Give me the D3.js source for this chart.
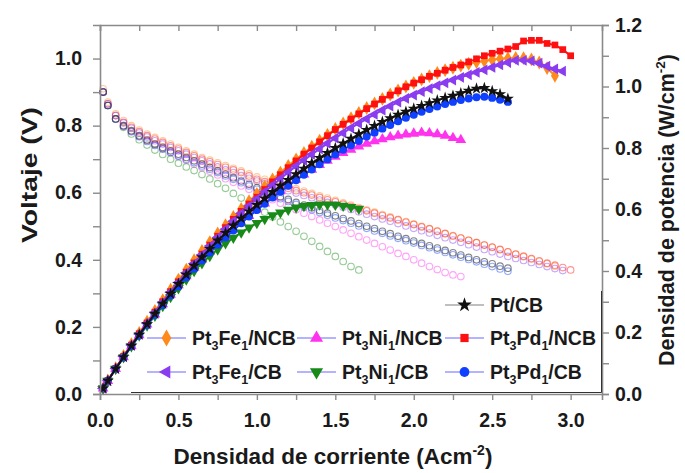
<!DOCTYPE html>
<html>
<head>
<meta charset="utf-8">
<script src="https://cdn.jsdelivr.net/npm/d3@7"></script>
<style>
  body { margin: 0; background: #fff; }
  svg text { font-family: "Liberation Sans", Arial, sans-serif; font-weight: bold; fill: #1a1a1a; }
</style>
</head>
<body>
<div id="chart"></div>
<script>
// current density (A/cm2), shared by all series
const current = [0.02, 0.05, 0.10, 0.15, 0.20, 0.25, 0.30, 0.35, 0.40, 0.45, 0.50, 0.55, 0.60, 0.65, 0.70, 0.75, 0.80, 0.85, 0.90, 0.95,
  1.00, 1.05, 1.10, 1.15, 1.20, 1.25, 1.30, 1.35, 1.40, 1.45, 1.50, 1.55, 1.60, 1.65, 1.70, 1.75, 1.80, 1.85, 1.90, 1.95,
  2.00, 2.05, 2.10, 2.15, 2.20, 2.25, 2.30, 2.35, 2.40, 2.45, 2.50, 2.55, 2.60, 2.65, 2.70, 2.75, 2.80, 2.85, 2.90, 2.95, 3.00];

// voltage (V)
const voltFeNCB = [.91, .87, .835, .815, .80, .787, .775, .765, .755, .745, .735, .725, .715, .705, .697, .689, .681, .673, .665, .656,
  .647, .64, .633, .626, .619, .612, .605, .598, .591, .584, .577, .57, .563, .556, .549, .542, .535, .528, .521, .514,
  .507, .50, .493, .486, .479, .472, .465, .458, .451, .444, .437, .43, .423, .416, .409, .402, .395, .388, .381];
const voltNiNCB = [.90, .86, .82, .80, .783, .768, .755, .743, .731, .72, .708, .697, .686, .675, .664, .653, .642, .631, .62, .61,
  .60, .59, .579, .569, .559, .549, .539, .529, .519, .509, .499, .489, .479, .469, .459, .449, .439, .429, .419, .41,
  .40, .39, .38, .371, .362, .355, .35];
const voltPdNCB = [.90, .865, .83, .81, .795, .782, .77, .76, .75, .74, .73, .72, .71, .70, .692, .684, .676, .668, .66, .65,
  .64, .633, .627, .62, .613, .606, .60, .593, .586, .579, .573, .566, .559, .552, .546, .539, .532, .525, .519, .512,
  .505, .498, .492, .485, .478, .471, .465, .458, .451, .444, .438, .431, .424, .417, .411, .404, .397, .39, .384, .377, .37];
const voltFeCB = [.90, .865, .83, .808, .792, .778, .766, .755, .745, .735, .725, .715, .705, .695, .686, .677, .668, .66, .651, .643,
  .635, .627, .62, .613, .606, .599, .592, .585, .578, .571, .564, .557, .55, .543, .536, .529, .522, .515, .508, .501,
  .494, .487, .48, .473, .466, .459, .452, .445, .438, .431, .424, .417, .41, .404, .398, .392, .386, .38, .374, .368];
const voltNiCB = [.90, .86, .82, .795, .775, .758, .742, .727, .714, .70, .688, .677, .666, .654, .641, .627, .613, .598, .584, .57,
  .556, .542, .528, .513, .499, .485, .47, .455, .44, .425, .41, .395, .38, .37];
const voltPdCB = [.90, .86, .82, .798, .782, .767, .753, .741, .73, .72, .71, .70, .69, .68, .67, .66, .65, .64, .63, .62,
  .61, .60, .591, .582, .574, .565, .557, .549, .541, .533, .525, .517, .509, .501, .494, .486, .479, .471, .464, .457,
  .45, .443, .436, .429, .422, .415, .408, .401, .394, .387, .38, .373, .366];
const voltPtCB = [.90, .86, .82, .80, .785, .77, .757, .745, .735, .725, .715, .705, .695, .685, .675, .665, .655, .645, .635, .625,
  .615, .605, .597, .588, .58, .571, .563, .555, .547, .539, .531, .523, .516, .508, .50, .493, .485, .478, .47, .463,
  .456, .449, .442, .435, .428, .421, .414, .407, .40, .394, .388, .381, .375];

// power density (W/cm2)
const powFeNCB = [.018, .044, .084, .124, .162, .199, .235, .27, .305, .339, .372, .404, .435, .465, .494, .522, .549, .576, .602, .627,
  .651, .675, .698, .72, .742, .763, .784, .804, .824, .843, .862, .88, .897, .914, .93, .945, .96, .974, .987, 1.0,
  1.012, 1.023, 1.034, 1.044, 1.053, 1.061, 1.068, 1.074, 1.079, 1.083, 1.087, 1.09, 1.092, 1.093, 1.092, 1.088, 1.078, 1.06, 1.035];
const powNiNCB = [.018, .043, .082, .12, .156, .191, .226, .259, .292, .323, .354, .383, .411, .438, .464, .489, .513, .536, .558, .579,
  .60, .62, .64, .66, .679, .697, .714, .73, .745, .759, .772, .784, .795, .805, .814, .822, .829, .835, .84, .844,
  .847, .85, .848, .845, .84, .833, .826];
const powPdNCB = [.018, .043, .083, .122, .159, .196, .231, .266, .30, .333, .365, .396, .426, .455, .484, .513, .541, .568, .594, .618,
  .64, .665, .69, .713, .736, .758, .78, .80, .82, .84, .86, .877, .894, .911, .928, .943, .958, .972, .986, .999,
  1.011, 1.022, 1.033, 1.043, 1.053, 1.062, 1.07, 1.08, 1.09, 1.10, 1.108, 1.115, 1.122, 1.13, 1.148, 1.15, 1.15, 1.14, 1.135, 1.12, 1.10];
const powFeCB = [.018, .043, .083, .122, .159, .195, .23, .265, .298, .331, .363, .394, .424, .453, .481, .509, .536, .562, .587, .611,
  .634, .657, .679, .70, .721, .741, .76, .779, .797, .815, .832, .849, .865, .88, .895, .909, .923, .936, .949, .961,
  .972, .983, .993, 1.003, 1.012, 1.021, 1.03, 1.038, 1.046, 1.054, 1.062, 1.07, 1.078, 1.085, 1.085, 1.083, 1.076, 1.066, 1.057, 1.05];
const powNiCB = [.018, .043, .082, .119, .155, .19, .223, .254, .286, .315, .344, .372, .40, .425, .449, .47, .49, .508, .525, .541,
  .556, .569, .581, .59, .599, .606, .611, .614, .616, .616, .615, .612, .608, .602];
const powPdCB = [.018, .043, .082, .119, .155, .19, .224, .257, .289, .32, .35, .379, .407, .434, .46, .485, .509, .532, .555, .577,
  .598, .619, .639, .658, .677, .695, .713, .73, .747, .763, .779, .794, .809, .823, .837, .85, .863, .875, .887, .898,
  .908, .918, .927, .935, .943, .95, .956, .961, .965, .967, .963, .957, .95];
const powPtCB = [.018, .043, .082, .12, .157, .193, .227, .261, .294, .326, .358, .388, .417, .445, .472, .499, .524, .548, .571, .594,
  .615, .636, .657, .677, .696, .715, .733, .751, .768, .784, .80, .815, .83, .845, .859, .872, .885, .897, .908, .918,
  .928, .937, .946, .955, .963, .97, .978, .986, .993, .995, .985, .975, .96];

const xTicks = [0, 0.25, 0.5, 0.75, 1.0, 1.25, 1.5, 1.75, 2.0, 2.25, 2.5, 2.75, 3.0];
const voltTicks = [0, 0.1, 0.2, 0.3, 0.4, 0.5, 0.6, 0.7, 0.8, 0.9, 1.0];
const powTicks = [0, 0.1, 0.2, 0.3, 0.4, 0.5, 0.6, 0.7, 0.8, 0.9, 1.0, 1.1, 1.2];

// series styling; name parts alternate normal / subscript
const series = [
  { name: ["Pt", "3", "Fe", "1", "/NCB"], volt: voltFeNCB, pow: powFeNCB, color: "#ff8a1c", symbol: d3.symbolDiamond, rot: 0, size: 55 },
  { name: ["Pt", "3", "Pd", "1", "/NCB"], volt: voltPdNCB, pow: powPdNCB, color: "#ff1010", symbol: d3.symbolSquare, rot: 0, size: 45 },
  { name: ["Pt", "3", "Ni", "1", "/NCB"], volt: voltNiNCB, pow: powNiNCB, color: "#ff33ee", symbol: d3.symbolTriangle, rot: 0, size: 50 },
  { name: ["Pt", "3", "Ni", "1", "/CB"], volt: voltNiCB, pow: powNiCB, color: "#178a17", symbol: d3.symbolTriangle, rot: 180, size: 50 },
  { name: ["Pt", "3", "Pd", "1", "/CB"], volt: voltPdCB, pow: powPdCB, color: "#1040ff", symbol: d3.symbolCircle, rot: 0, size: 50 },
  { name: ["Pt", "3", "Fe", "1", "/CB"], volt: voltFeCB, pow: powFeCB, color: "#8a3cf0", symbol: d3.symbolTriangle, rot: -90, size: 50 },
  { name: ["Pt/CB"], volt: voltPtCB, pow: powPtCB, color: "#111111", symbol: d3.symbolStar, rot: 0, size: 45 }
];

const W = 685, H = 473;
const svg = d3.select("#chart").append("svg").attr("width", W).attr("height", H);

const x = d3.scaleLinear().domain([0, 3.2]).range([100, 602]);
const yV = d3.scaleLinear().domain([0, 1.1]).range([394, 25]);
const yP = d3.scaleLinear().domain([0, 1.2]).range([394, 25]);

const axisColor = "#8a8a8a";
const fmt = d3.format(".1f");
const even = (v) => Math.abs(Math.round(v * 10) % 2) === 0;

function styleAxis(g) {
  g.selectAll("path.domain").attr("stroke", axisColor).attr("stroke-width", 1.6);
  g.selectAll(".tick line").attr("stroke", axisColor).attr("stroke-width", 1.4);
  g.selectAll(".tick text").attr("font-size", 19.5).attr("fill", "#1a1a1a");
}

// polarization curves: hollow circles
const plot = svg.append("g");
series.forEach(s => {
  const dark = s.color === "#111111";
  plot.append("g")
    .selectAll("circle")
    .data(s.volt)
    .join("circle")
    .attr("cx", (d, i) => x(current[i]))
    .attr("cy", d => yV(d))
    .attr("r", 3.3)
    .attr("fill", "none")
    .attr("stroke", dark ? "#333" : s.color)
    .attr("stroke-width", 1.1)
    .attr("stroke-opacity", dark ? 0.6 : 0.45);
});

// power density curves: filled markers
series.forEach(s => {
  plot.append("path")
    .datum(s.pow)
    .attr("fill", "none")
    .attr("stroke", s.color)
    .attr("stroke-width", 2)
    .attr("d", d3.line().x((d, i) => x(current[i])).y(d => yP(d)));
  plot.append("g")
    .selectAll("path")
    .data(s.pow)
    .join("path")
    .attr("d", d3.symbol(s.symbol, s.size))
    .attr("transform", (d, i) => `translate(${x(current[i])},${yP(d)}) rotate(${s.rot})`)
    .attr("fill", s.color);
});

// axes
const gB = svg.append("g").attr("transform", "translate(0,394)")
  .call(d3.axisBottom(x).tickValues(xTicks).tickSize(6).tickPadding(13)
    .tickFormat(v => (Math.abs(v * 2 - Math.round(v * 2)) < 1e-6 ? fmt(v) : "")));
styleAxis(gB);
const gT = svg.append("g").attr("transform", "translate(0,25)")
  .call(d3.axisTop(x).tickValues(xTicks).tickSize(-6).tickFormat(""));
styleAxis(gT);
const gL = svg.append("g").attr("transform", "translate(100,0)")
  .call(d3.axisLeft(yV).tickValues(voltTicks).tickSize(7).tickPadding(11)
    .tickFormat(v => (even(v) ? fmt(v) : "")));
styleAxis(gL);
const gR = svg.append("g").attr("transform", "translate(602,0)")
  .call(d3.axisRight(yP).tickValues(powTicks).tickSize(7).tickPadding(6)
    .tickFormat(v => (even(v) ? fmt(v) : "")));
styleAxis(gR);

// legend frame (bottom and right edges show over the axes)
svg.append("path").attr("d", "M131,392.5H601.5V291").attr("fill", "none").attr("stroke", "#333").attr("stroke-width", 1);

// legend entries
const legendPos = [
  { s: 0, x: 147, y: 338 }, { s: 2, x: 297, y: 338 }, { s: 1, x: 445, y: 338 },
  { s: 5, x: 147, y: 372 }, { s: 3, x: 297, y: 372 }, { s: 4, x: 445, y: 372 },
  { s: 6, x: 445, y: 305 }
];
const lg = svg.append("g");
legendPos.forEach(p => {
  const s = series[p.s];
  lg.append("line").attr("x1", p.x).attr("x2", p.x + 39).attr("y1", p.y).attr("y2", p.y)
    .attr("stroke", p.s === 6 ? "#aaa" : "#9a9aff").attr("stroke-width", 1.5);
  lg.append("path").attr("d", d3.symbol(s.symbol, s.size * 1.5))
    .attr("transform", `translate(${p.x + 19.5},${p.y}) rotate(${s.rot})`).attr("fill", s.color);
  const t = lg.append("text").attr("x", p.x + 45).attr("y", p.y + 7).attr("font-size", 19.5);
  if (s.name.length === 1) {
    t.text(s.name[0]);
  } else {
    t.append("tspan").text(s.name[0]);
    t.append("tspan").attr("font-size", 12.5).attr("dy", 5).text(s.name[1]);
    t.append("tspan").attr("dy", -5).text(s.name[2]);
    t.append("tspan").attr("font-size", 12.5).attr("dy", 5).text(s.name[3]);
    t.append("tspan").attr("dy", -5).text(s.name[4]);
  }
});

// axis titles
const tb = svg.append("text").attr("x", 333).attr("y", 464).attr("text-anchor", "middle").attr("font-size", 22.5);
tb.append("tspan").text("Densidad de corriente (Acm");
tb.append("tspan").attr("font-size", 14).attr("dy", -9).text("-2");
tb.append("tspan").attr("dy", 9).text(")");

svg.append("text").attr("transform", "translate(37,175) rotate(-90)")
  .attr("text-anchor", "middle").attr("font-size", 22)
  .attr("textLength", 136).attr("lengthAdjust", "spacingAndGlyphs").text("Voltaje (V)");

const tr = svg.append("text").attr("transform", "translate(674,210) rotate(-90)")
  .attr("text-anchor", "middle").attr("font-size", 21.5);
tr.append("tspan").text("Densidad de potencia (W/cm");
tr.append("tspan").attr("font-size", 13.5).attr("dy", -9).text("-2");
tr.append("tspan").attr("dy", 9).text(")");
</script>
</body>
</html>
